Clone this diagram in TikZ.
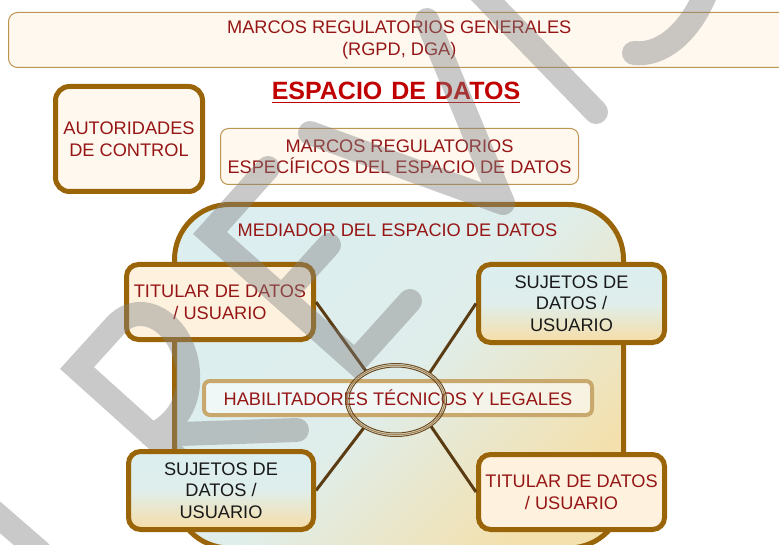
\documentclass[tikz,border=0pt]{standalone}
\usepackage{fontspec}
\setmainfont{Liberation Sans}
\usetikzlibrary{shapes.geometric}
\definecolor{dred}{HTML}{961616}
\definecolor{tred}{HTML}{C00000}
\definecolor{brd}{HTML}{9A6508}
\definecolor{thinbrd}{HTML}{BE9550}
\definecolor{cream}{HTML}{FEF8EF}
\definecolor{authfill}{HTML}{FFF8EE}
\definecolor{peach}{HTML}{FEF2DF}
\definecolor{lblue}{HTML}{DCEEF0}
\definecolor{lblue2}{HTML}{DFEEEB}
\definecolor{lpeach}{HTML}{F7DDA6}
\definecolor{cpeach}{HTML}{F4E0AD}
\definecolor{conn}{HTML}{5A3B12}
\definecolor{ring}{HTML}{6E4C22}
\definecolor{ringlight}{HTML}{A8875A}
\definecolor{habbrd}{HTML}{C8A86C}
\definecolor{wm}{HTML}{808080}
\pgfdeclarelayer{wmlayer}
\pgfdeclarelayer{toplayer}
\pgfsetlayers{main,wmlayer,toplayer}
\begin{document}
\begin{tikzpicture}[x=1pt,y=-1pt,
  txt/.style={font=\fontsize{18.2}{21.5}\selectfont, align=center, text=dred},
  thinbox/.style={draw=thinbrd, line width=1pt, fill=cream, rounded corners=8pt, inner sep=0pt, txt},
  thickbox/.style={draw=brd, line width=5pt, rounded corners=12pt, inner sep=0pt, txt},
  sujbox/.style={thickbox, top color=lblue, bottom color=lpeach, middle color=lblue2, text=black!90},
  titbox/.style={thickbox, fill=peach},
  connector/.style={draw=conn, line width=3pt},
  wmark/.style={draw=wm, draw opacity=0.42, line width=24pt, line cap=round, line join=miter}
]
\useasboundingbox (0,0) rectangle (779,545);
\clip (0,0) rectangle (779,545);
\fill[white] (0,0) rectangle (779,545);

% general framework
\node[thinbox, minimum width=781.5pt, minimum height=55pt, rounded corners=9pt] (gen) at (399.25,40) {MARCOS REGULATORIOS GENERALES\\(RGPD, DGA)};

% title
\node[font=\fontsize{25}{30}\selectfont\bfseries, text=tred, inner sep=0pt] (title) at (396,91) {ESPACIO\hspace{2pt} DE\hspace{2pt} DATOS};
\draw[tred, line width=1.5pt] ([yshift=-2.5pt]title.south west) -- ([yshift=-2.5pt]title.south east);

% control authorities
\node[thickbox, fill=authfill, minimum width=147pt, minimum height=105pt, rounded corners=14pt] (auth) at (129,139) {AUTORIDADES\\DE CONTROL};

% specific frameworks
\node[thinbox, minimum width=358pt, minimum height=56pt] (spec) at (399.5,156.5) {MARCOS REGULATORIOS\\ESPECÍFICOS DEL ESPACIO DE DATOS};

% mediator container
\node[draw=brd, line width=5pt, rounded corners=55pt, minimum width=449pt, minimum height=343.5pt, inner sep=0pt,
      top color=lblue, bottom color=cpeach, middle color=lblue2, shading angle=45] (med) at (399,376.25) {};
\node[txt] (medlbl) at (397.5,230) {MEDIADOR DEL ESPACIO DE DATOS};

% hub
\node[ellipse, minimum width=101pt, minimum height=73pt, inner sep=0pt] (hub) at (396,400) {};

% boxes
\node[titbox, minimum width=187pt, minimum height=75pt] (tl) at (220,302) {TITULAR DE DATOS\\/ USUARIO};
\node[sujbox, minimum width=186pt, minimum height=78pt] (tr) at (571.5,303.5) {SUJETOS DE\\DATOS /\\USUARIO};
\node[titbox, minimum width=186pt, minimum height=75pt] (br) at (571.5,492) {TITULAR DE DATOS\\/ USUARIO};
\begin{pgfonlayer}{toplayer}
\node[sujbox, minimum width=185pt, minimum height=78pt] (bl) at (221,490.5) {SUJETOS DE\\DATOS /\\USUARIO};
\end{pgfonlayer}

% connectors
\draw[connector] (tl.east) -- (hub.136);
\draw[connector] (tr.west) -- (hub.39);
\draw[connector] (bl.east) -- (hub.221);
\draw[connector] (br.west) -- (hub.323);

% enablers
\node[draw=habbrd, line width=4pt, fill=white, fill opacity=0.55, text opacity=1, rounded corners=6pt,
      minimum width=388pt, minimum height=34pt, inner sep=0pt, txt] (hab) at (398,398) {HABILITADORES TÉCNICOS Y LEGALES};

% hub rings
\draw[ring, line width=1pt] (hub.center) ellipse [x radius=50.5, y radius=36.5];
\draw[ringlight, line width=1.2pt] (hub.center) ellipse [x radius=48.8, y radius=34.8];
\draw[ring, line width=1pt] (hub.center) ellipse [x radius=47, y radius=33];

% watermark
\begin{pgfonlayer}{wmlayer}
\draw[wmark] (-20,500) -- (40,552);
\draw[wmark] (226,502) -- (77,368) -- (116,325) .. controls (145,295) and (192,330) .. (188,385) .. controls (186,410) and (170,428) .. (151,435)
  (151,435) -- (297,430);
\draw[wmark] (268,168) -- (210,233) -- (355,362) -- (410,301) (282,297) -- (329,245);
\draw[wmark, line join=round] (427,20) -- (503,203) -- (310,133);
\draw[wmark] (478,-10) -- (596,112);
\draw[wmark] (634,53) .. controls (660,56) and (688,35) .. (705,-5);
\end{pgfonlayer}
\end{tikzpicture}
\end{document}
